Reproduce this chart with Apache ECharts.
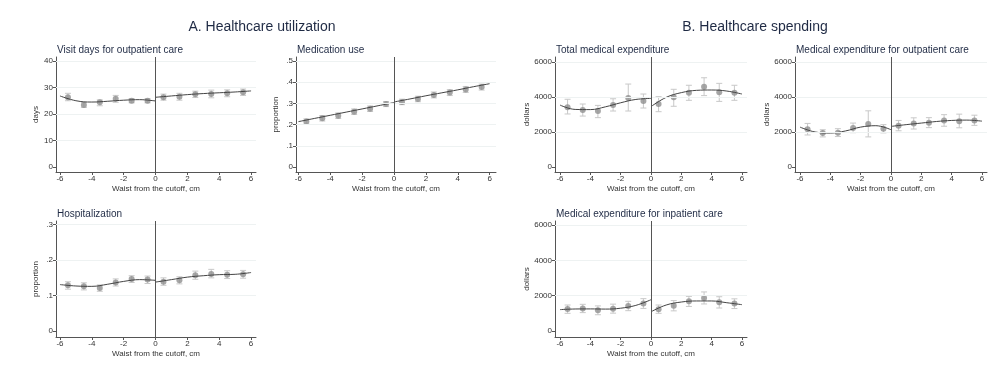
<!DOCTYPE html>
<html><head><meta charset="utf-8">
<script src="https://cdn.jsdelivr.net/npm/echarts@6/dist/echarts.min.js"></script>
<style>html,body{margin:0;padding:0;background:#fff}#c{width:999px;height:377px}</style>
</head><body><div id="c"></div>
<script>
const bins = [-5.5,-4.5,-3.5,-2.5,-1.5,-0.5,0.5,1.5,2.5,3.5,4.5,5.5];
const fitXL = [-6,-5,-4,-3,-2,-1,0];
const fitXR = [0,1,2,3,4,5,6];
const xTicks = [-6,-4,-2,0,2,4,6];

const visitPt = [26.3,23.4,24.4,25.7,25.0,25.0,26.3,26.5,27.4,27.5,27.8,28.2];
const visitLo = [25.0,22.5,23.1,24.4,24.2,24.2,25.2,25.2,26.2,26.1,26.5,27.0];
const visitHi = [27.8,24.3,25.3,27.0,25.8,25.8,27.5,27.8,28.6,29.0,29.1,29.4];
const visitFitL = [26.8,25.0,24.5,24.8,25.2,25.4,24.9];
const visitFitR = [26.3,26.8,27.3,27.7,28.0,28.3,28.7];

const medPt = [.215,.230,.242,.261,.275,.297,.307,.321,.340,.351,.366,.377];
const medLo = [.203,.217,.229,.248,.262,.285,.294,.308,.326,.337,.352,.363];
const medHi = [.227,.243,.255,.274,.288,.309,.320,.334,.354,.365,.380,.391];
const medFitL = [.214,.229,.244,.259,.274,.289,.304];
const medFitR = [.307,.321,.336,.350,.364,.379,.393];

const hospPt = [.129,.126,.121,.137,.147,.145,.139,.143,.157,.161,.159,.160];
const hospLo = [.118,.116,.112,.127,.137,.134,.129,.133,.146,.150,.148,.149];
const hospHi = [.139,.136,.130,.147,.156,.155,.150,.153,.169,.174,.170,.171];
const hospFitL = [.131,.127,.126,.132,.140,.145,.143];
const hospFitR = [.138,.145,.152,.156,.159,.160,.165];

const totPt = [3410,3260,3200,3540,3940,3770,3600,3980,4250,4590,4270,4250];
const totLo = [3030,2910,2820,3200,3200,3370,3160,3470,3810,4080,3750,3810];
const totHi = [3870,3600,3520,3900,4740,4170,4020,4440,4670,5100,4780,4670];
const totFitL = [3540,3290,3280,3440,3670,3860,3920];
const totFitR = [3450,3980,4250,4380,4400,4340,4170];

const outPt = [2150,1940,1960,2230,2450,2190,2360,2490,2530,2660,2620,2660];
const outLo = [1830,1720,1740,1960,1720,1950,2070,2170,2250,2330,2240,2380];
const outHi = [2490,2130,2190,2510,3210,2420,2660,2810,2820,2990,3020,2960];
const outFitL = [2280,2000,1940,2060,2280,2360,2130];
const outFitR = [2320,2420,2510,2600,2660,2680,2620];

const inPt = [1245,1280,1170,1260,1415,1550,1230,1430,1680,1870,1620,1550];
const inLo = [1000,1040,920,1010,1150,1280,1000,1140,1390,1530,1300,1270];
const inHi = [1470,1510,1420,1520,1680,1830,1470,1720,1960,2210,1940,1820];
const inFitL = [1210,1245,1250,1240,1290,1450,1770];
const inFitR = [1090,1470,1640,1700,1700,1600,1490];

const FONT = "'Liberation Sans', Arial, sans-serif";
const TXT = '#333';
const TITLE = '#1f2a44';

const panels = [
  {title:'Visit days for outpatient care', yname:'days', left:56, top:57, w:200, h:115, ymin:-1.9, ymax:41.5, yt:[0,10,20,30,40], fmt:v=>String(v), gap:14, xmin:-6.25, xmax:6.31,
   pt:visitPt, lo:visitLo, hi:visitHi, fl:visitFitL, fr:visitFitR},
  {title:'Medication use', yname:'proportion', left:296, top:57, w:200, h:115, ymin:-0.0236, ymax:0.519, yt:[0,.1,.2,.3,.4,.5], fmt:v=>v===0?'0':String(v).replace(/^0/,''), gap:16, xmin:-6.15, xmax:6.4,
   pt:medPt, lo:medLo, hi:medHi, fl:medFitL, fr:medFitR},
  {title:'Hospitalization', yname:'proportion', left:56, top:221, w:200, h:116, ymin:-0.017, ymax:0.3105, yt:[0,.1,.2,.3], fmt:v=>v===0?'0':String(v).replace(/^0/,''), gap:16, xmin:-6.25, xmax:6.31,
   pt:hospPt, lo:hospLo, hi:hospHi, fl:hospFitL, fr:hospFitR},
  {title:'Total medical expenditure', yname:'dollars', left:555, top:57, w:192, h:115, ymin:-286, ymax:6286, yt:[0,2000,4000,6000], fmt:v=>String(v), gap:23, xmin:-6.33, xmax:6.33,
   pt:totPt, lo:totLo, hi:totHi, fl:totFitL, fr:totFitR},
  {title:'Medical expenditure for outpatient care', yname:'dollars', left:795, top:57, w:192, h:115, ymin:-286, ymax:6286, yt:[0,2000,4000,6000], fmt:v=>String(v), gap:23, xmin:-6.33, xmax:6.33,
   pt:outPt, lo:outLo, hi:outHi, fl:outFitL, fr:outFitR},
  {title:'Medical expenditure for inpatient care', yname:'dollars', left:555, top:221, w:192, h:116, ymin:-340, ymax:6226, yt:[0,2000,4000,6000], fmt:v=>String(v), gap:23, xmin:-6.33, xmax:6.33,
   pt:inPt, lo:inLo, hi:inHi, fl:inFitL, fr:inFitR}
];

const grid=[], xAxis=[], yAxis=[], series=[], title=[
  {text:'A. Healthcare utilization', left:262, top:20, padding:0, textAlign:'center', textStyle:{fontFamily:FONT,fontSize:14,fontWeight:'normal',color:TITLE}},
  {text:'B. Healthcare spending', left:755, top:20, padding:0, textAlign:'center', textStyle:{fontFamily:FONT,fontSize:14,fontWeight:'normal',color:TITLE}}
];

panels.forEach((p,i)=>{
  grid.push({left:p.left, top:p.top, width:p.w, height:p.h, containLabel:false});
  title.push({text:p.title, left:p.left+1, top:p.top-12, padding:0, textStyle:{fontFamily:FONT,fontSize:10,fontWeight:'normal',color:TITLE}});
  xAxis.push({type:'value', gridIndex:i, min:p.xmin, max:p.xmax,
    name:'Waist from the cutoff, cm', nameLocation:'middle', nameGap:13,
    nameTextStyle:{fontFamily:FONT,fontSize:8,color:TXT},
    axisLine:{show:true,onZero:false,lineStyle:{color:'#555',width:1}},
    axisTick:{show:true,length:3,customValues:xTicks,lineStyle:{color:'#555'}},
    axisLabel:{customValues:xTicks,fontFamily:FONT,fontSize:8,color:TXT,margin:3},
    splitLine:{show:false}});
  yAxis.push({type:'value', gridIndex:i, min:p.ymin, max:p.ymax,
    name:p.yname, nameLocation:'middle', nameGap:p.gap, nameRotate:90,
    nameTextStyle:{fontFamily:FONT,fontSize:8,color:TXT},
    axisLine:{show:true,onZero:false,lineStyle:{color:'#555',width:1}},
    axisTick:{show:true,length:3,customValues:p.yt,lineStyle:{color:'#555'}},
    axisLabel:{customValues:p.yt,formatter:p.fmt,fontFamily:FONT,fontSize:8,color:TXT,margin:3},
    splitLine:{show:false}});
  series.push({type:'line', xAxisIndex:i, yAxisIndex:i, data:[], silent:true,
    markLine:{silent:true, symbol:'none', label:{show:false},
      data:[...p.yt.filter(v=>v!==0).map(v=>({yAxis:v, lineStyle:{color:'#eef2f2',width:1,type:'solid'}})),
            {xAxis:0, lineStyle:{color:'#555',width:1,type:'solid'}}]}});
  series.push({type:'custom', xAxisIndex:i, yAxisIndex:i, silent:true,
    data:bins.map((b,k)=>[b,p.lo[k],p.hi[k]]),
    renderItem:(params,api)=>{
      const a=api.coord([api.value(0),api.value(1)]);
      const b=api.coord([api.value(0),api.value(2)]);
      const cw=3;
      const st={stroke:'#c8c8c8',lineWidth:1};
      return {type:'group',children:[
        {type:'line',shape:{x1:a[0],y1:a[1],x2:b[0],y2:b[1]},style:st},
        {type:'line',shape:{x1:a[0]-cw,y1:a[1],x2:a[0]+cw,y2:a[1]},style:st},
        {type:'line',shape:{x1:b[0]-cw,y1:b[1],x2:b[0]+cw,y2:b[1]},style:st}]};
    }, z:2});
  series.push({type:'scatter', xAxisIndex:i, yAxisIndex:i, data:bins.map((b,k)=>[b,p.pt[k]]),
    symbol:'circle', symbolSize:6, itemStyle:{color:'#909090'}, z:3, silent:true});
  series.push({type:'line', xAxisIndex:i, yAxisIndex:i, data:fitXL.map((x,k)=>[x,p.fl[k]]), smooth:0.4,
    showSymbol:false, lineStyle:{color:'#444',width:1}, z:4, silent:true});
  series.push({type:'line', xAxisIndex:i, yAxisIndex:i, data:fitXR.map((x,k)=>[x,p.fr[k]]), smooth:0.4,
    showSymbol:false, lineStyle:{color:'#444',width:1}, z:4, silent:true});
});

const chart = echarts.init(document.getElementById('c'), null, {renderer:'canvas'});
chart.setOption({animation:false, backgroundColor:'#fff', title, grid, xAxis, yAxis, series});
</script></body></html>
